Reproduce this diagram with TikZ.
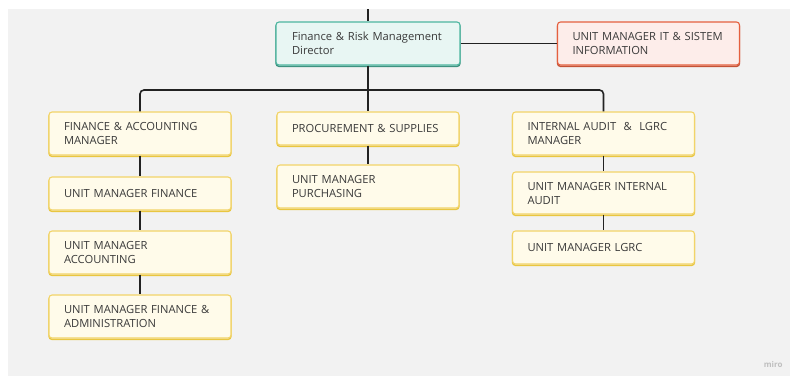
\documentclass[tikz,border=0pt]{standalone}
\usepackage{fontspec}
\setmainfont{Open Sans}
\definecolor{bg}{HTML}{F2F2F2}
\definecolor{tealb}{HTML}{4DB6A0}
\definecolor{tealf}{HTML}{E8F6F3}
\definecolor{redb}{HTML}{E5603F}
\definecolor{redf}{HTML}{FDEDEA}
\definecolor{yelb}{HTML}{F2D468}
\definecolor{yeld}{HTML}{E9C640}
\definecolor{yelf}{HTML}{FFFBEA}
\definecolor{linec}{HTML}{222222}
\definecolor{txt}{HTML}{3A3A3A}
\newcommand{\oneline}[1]{\mbox{#1}}
\tikzset{
  card/.style={rounded corners=3pt, line width=1.1pt, text=txt,
    font=\fontsize{11.2}{14}\selectfont, align=left, text width=152pt,
    inner xsep=15pt, inner ysep=0pt, minimum width=182pt, anchor=center},
  ycard/.style={card, draw=yelb, fill=yelf,
    preaction={draw=yeld, line width=1.4pt, transform canvas={yshift=-1.4pt}}},
  tcard/.style={card, draw=tealb, fill=tealf,
    preaction={draw=tealb!80!black, line width=1.4pt, transform canvas={yshift=-1.4pt}}},
  rcard/.style={card, draw=redb, fill=redf,
    preaction={draw=redb!85!black, line width=1.4pt, transform canvas={yshift=-1.4pt}}},
  conn/.style={draw=linec, line width=1.6pt}
}
\begin{document}
\begin{tikzpicture}[x=1pt,y=-1pt]
\useasboundingbox (0,0) rectangle (790,376);
\fill[bg] (8,9) rectangle (790,376);
\coordinate (top) at (368,9);
\node[tcard, minimum width=184pt, minimum height=43pt] (dir) at (368,43.5) {\oneline{Finance \& Risk Management}\\Director};
\node[rcard, minimum height=43pt] (it) at (648.5,43.5) {\oneline{UNIT MANAGER IT \& SISTEM}\\INFORMATION};
\node[ycard, minimum height=43pt] (fam) at (140,133.5) {\oneline{FINANCE \& ACCOUNTING}\\MANAGER};
\node[ycard, minimum height=33pt] (umf) at (140,193.5) {\oneline{UNIT MANAGER FINANCE}};
\node[ycard, minimum height=43pt] (uma) at (140,252.5) {UNIT MANAGER\\ACCOUNTING};
\node[ycard, minimum height=43pt] (umfa) at (140,316.5) {\oneline{UNIT MANAGER FINANCE \&}\\ADMINISTRATION};
\node[ycard, minimum height=33pt] (ps) at (368,128.5) {\oneline{PROCUREMENT \& SUPPLIES}};
\node[ycard, minimum height=43pt] (ump) at (368,186.5) {UNIT MANAGER\\PURCHASING};
\node[ycard, minimum height=43pt] (ia) at (603.5,133.5) {\oneline{INTERNAL AUDIT \ \& \ LGRC}\\MANAGER};
\node[ycard, minimum height=42pt] (umia) at (603.5,193) {\oneline{UNIT MANAGER INTERNAL}\\AUDIT};
\node[ycard, minimum height=33pt] (uml) at (603.5,247.5) {\oneline{UNIT MANAGER LGRC}};
\path[conn] (top) -- (dir.north);
\path[conn] (dir.east) -- (it.west);
\path[conn] (dir.south) -- (ps.north);
\path[conn, rounded corners=4pt] (fam.north) |- (368,90) -| (ia.north);
\path[conn] (fam.south) -- (umf.north);
\path[conn] (umf.south) -- (uma.north);
\path[conn] (uma.south) -- (umfa.north);
\path[conn] (ps.south) -- (ump.north);
\path[conn] (ia.south) -- (umia.north);
\path[conn] (umia.south) -- (uml.north);
\node[text=black!25, font=\fontsize{8}{8}\selectfont\bfseries, anchor=east] (miro) at (786,364) {miro};
\end{tikzpicture}
\end{document}
